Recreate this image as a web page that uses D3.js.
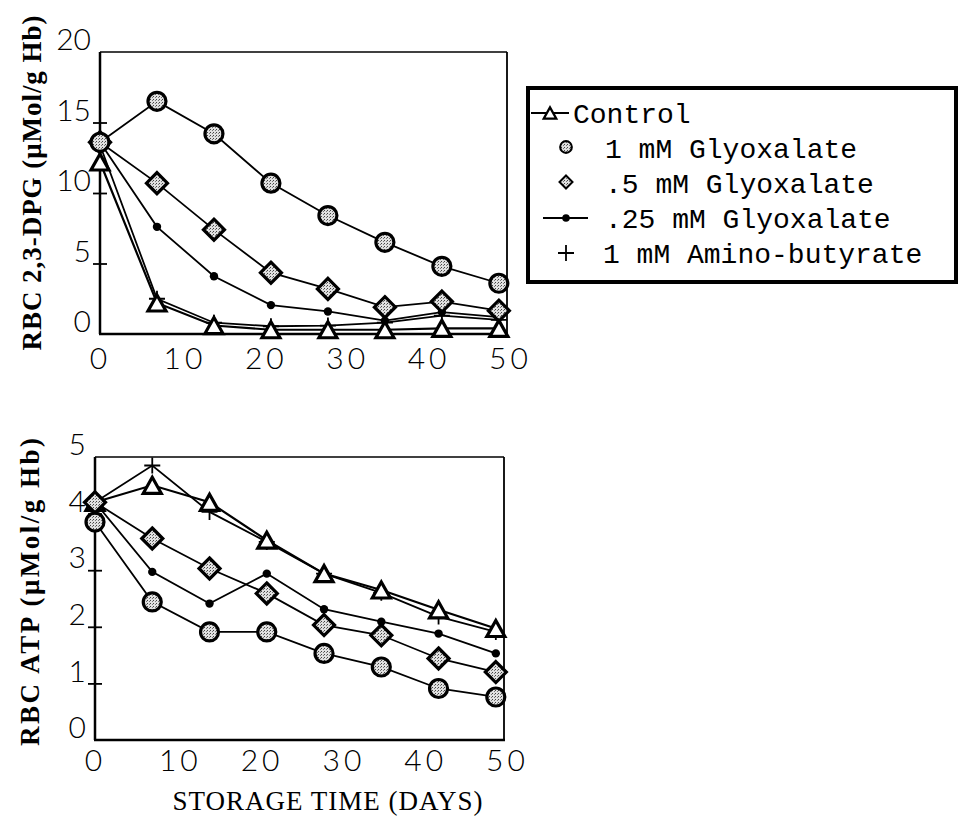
<!DOCTYPE html>
<html>
<head>
<meta charset="utf-8">
<script src="https://cdn.jsdelivr.net/npm/d3@7"></script>
<style>
  html, body { margin: 0; padding: 0; background: #fff; }
  svg { display: block; }
</style>
</head>
<body>
<svg id="chart" width="961" height="837"></svg>
<script>
// ---- data ----
const days = [0, 7, 14, 21, 28, 35, 42, 49];
const seriesNames = ["Control", "1 mM Glyoxalate", ".5 mM Glyoxalate", ".25 mM Glyoxalate", "1 mM Amino-butyrate"];
const seriesMarkers = ["triangle", "circle", "diamond", "dot", "plus"];

// RBC 2,3-DPG (µMol/g Hb)
const dpgControl = [12.2, 2.2, 0.6, 0.3, 0.3, 0.3, 0.4, 0.4];
const dpgGly1 = [13.6, 16.5, 14.2, 10.7, 8.4, 6.5, 4.8, 3.6];
const dpgGly05 = [13.6, 10.7, 7.4, 4.35, 3.2, 1.9, 2.3, 1.65];
const dpgGly025 = [13.6, 7.6, 4.1, 2.05, 1.6, 0.95, 1.55, 1.2];
const dpgAmino = [13.4, 2.5, 0.8, 0.55, 0.6, 0.8, 1.3, 1.0];

// RBC ATP (µMol/g Hb)
const atpControl = [4.2, 4.5, 4.2, 3.53, 2.94, 2.65, 2.3, 1.97];
const atpGly1 = [3.85, 2.44, 1.91, 1.91, 1.53, 1.29, 0.91, 0.76];
const atpGly05 = [4.2, 3.56, 3.03, 2.59, 2.03, 1.85, 1.44, 1.2];
const atpGly025 = [4.2, 2.97, 2.41, 2.94, 2.31, 2.09, 1.88, 1.53];
const atpAmino = [4.2, 4.85, 4.03, 3.5, 2.94, 2.6, 2.18, 1.91];

const xTicks = [0, 10, 20, 30, 40, 50];
const dpgTicks = [0, 5, 10, 15, 20];
const atpTicks = [0, 1, 2, 3, 4, 5];

const dpgTitle = "RBC 2,3-DPG (\u03bcMol/g Hb)";
const atpTitle = "RBC ATP  (\u03bcMol/g Hb)";
const xTitle = "STORAGE TIME (DAYS)";

// ---- drawing ----
const svg = d3.select("#chart");
const defs = svg.append("defs");
const pat = defs.append("pattern").attr("id", "dither").attr("patternUnits", "userSpaceOnUse")
  .attr("width", 3).attr("height", 3);
pat.append("rect").attr("width", 3).attr("height", 3).attr("fill", "#e0e0e0");
pat.append("rect").attr("x", 0).attr("y", 0).attr("width", 1).attr("height", 1).attr("fill", "#444");
pat.append("rect").attr("x", 2).attr("y", 1).attr("width", 1).attr("height", 1).attr("fill", "#777");

const tickFont = "Lato, 'Liberation Sans', sans-serif";
const serifFont = "'Liberation Serif', 'DejaVu Serif', serif";

function drawMarker(g, type, cx, cy, scale = 1) {
  const s = scale;
  if (type === "circle") {
    g.append("circle").attr("cx", cx).attr("cy", cy).attr("r", 9 * s)
      .attr("fill", "url(#dither)").attr("stroke", "#000").attr("stroke-width", 3.2 * s);
  } else if (type === "diamond") {
    const r = 10.5 * s;
    g.append("path").attr("d", `M${cx},${cy - r}L${cx + r},${cy}L${cx},${cy + r}L${cx - r},${cy}Z`)
      .attr("fill", "url(#dither)").attr("stroke", "#000").attr("stroke-width", 3.2 * s);
  } else if (type === "triangle") {
    const w = 9 * s, h = 8 * s;
    g.append("path").attr("d", `M${cx},${cy - h}L${cx + w},${cy + h}L${cx - w},${cy + h}Z`)
      .attr("fill", "#fff").attr("stroke", "#000").attr("stroke-width", 3.2 * s)
      .attr("stroke-linejoin", "miter");
  } else if (type === "dot") {
    g.append("circle").attr("cx", cx).attr("cy", cy).attr("r", 4.2 * s).attr("fill", "#000");
  } else if (type === "plus") {
    const r = 8 * s;
    g.append("path").attr("d", `M${cx - r},${cy}H${cx + r}M${cx},${cy - r}V${cy + r}`)
      .attr("stroke", "#000").attr("stroke-width", 1.8 * s).attr("fill", "none");
  }
}

function panel(cfg) {
  const { left, right, top, bottom, yMax, yTicks, series, title, titleX, titleY, titleLen, xLabelY } = cfg;
  const x = d3.scaleLinear().domain([0, 50]).range([left, right]);
  const y = d3.scaleLinear().domain([0, yMax]).range([bottom, top]);
  const g = svg.append("g");

  // frame: thin top/right, thicker left/bottom
  g.append("line").attr("x1", left).attr("x2", right).attr("y1", top).attr("y2", top)
    .attr("stroke", "#000").attr("stroke-width", 1.5);
  g.append("line").attr("x1", right).attr("x2", right).attr("y1", top).attr("y2", bottom)
    .attr("stroke", "#000").attr("stroke-width", 1.8);

  // y axis with ticks crossing the axis line
  const yAxis = d3.axisLeft(y).tickValues(yTicks).tickSize(0).tickFormat(d3.format("d"));
  const ya = g.append("g").attr("transform", `translate(${left},0)`).call(yAxis);
  ya.select(".domain").remove();
  ya.selectAll(".tick text").attr("x", -9).attr("dy", "-0.08em")
    .attr("font-family", tickFont).attr("font-weight", 300)
    .attr("font-size", 30).attr("fill", "#000");
  ya.selectAll(".tick").filter(d => d !== 0 && d !== yMax).append("line")
    .attr("x1", -7).attr("x2", 7).attr("stroke", "#000").attr("stroke-width", 1.8);
  g.append("line").attr("x1", left).attr("x2", left).attr("y1", top).attr("y2", bottom)
    .attr("stroke", "#000").attr("stroke-width", 2.5);

  // x axis
  const xAxis = d3.axisBottom(x).tickValues(xTicks).tickSize(0).tickFormat(d3.format("d"));
  const xa = g.append("g").attr("transform", `translate(0,${bottom})`).call(xAxis);
  xa.select(".domain").remove();
  xa.selectAll(".tick text").attr("y", xLabelY - bottom).attr("dy", "0.35em")
    .attr("dx", d => d === 0 ? 0 : 3)
    .attr("font-family", tickFont).attr("font-weight", 300)
    .attr("font-size", 30).attr("fill", "#000")
    .attr("letter-spacing", 4);
  g.append("line").attr("x1", left - 1).attr("x2", right + 1).attr("y1", bottom).attr("y2", bottom)
    .attr("stroke", "#000").attr("stroke-width", 2.5);

  // lines
  const line = d3.line().x((d, i) => x(days[i])).y(d => y(d));
  const order = [4, 0, 3, 2, 1];
  order.forEach(k => {
    g.append("path").datum(series[k]).attr("d", line)
      .attr("fill", "none").attr("stroke", "#000").attr("stroke-width", k === 0 ? 2.2 : 1.8);
  });
  order.forEach(k => {
    series[k].forEach((v, i) => drawMarker(g, seriesMarkers[k], x(days[i]), y(v)));
  });

  // y title (rotated)
  svg.append("text")
    .attr("transform", `translate(${titleX},${titleY}) rotate(-90)`)
    .attr("text-anchor", "middle")
    .attr("font-family", serifFont).attr("font-weight", "bold")
    .attr("font-size", 27).attr("fill", "#000")
    .attr("textLength", titleLen).attr("lengthAdjust", "spacing")
    .text(title);
}

panel({
  left: 100, right: 507, top: 52, bottom: 334, yMax: 20, yTicks: dpgTicks,
  series: [dpgControl, dpgGly1, dpgGly05, dpgGly025, dpgAmino],
  title: dpgTitle, titleX: 41, titleY: 183, titleLen: 335, xLabelY: 358
});
panel({
  left: 95, right: 504, top: 457, bottom: 740, yMax: 5, yTicks: atpTicks,
  series: [atpControl, atpGly1, atpGly05, atpGly025, atpAmino],
  title: atpTitle, titleX: 39, titleY: 592, titleLen: 308, xLabelY: 760
});

svg.append("text").attr("x", 328).attr("y", 810).attr("text-anchor", "middle")
  .attr("font-family", serifFont).attr("font-size", 27).attr("fill", "#000")
  .attr("letter-spacing", 1)
  .text(xTitle);

// ---- legend ----
const lg = svg.append("g");
lg.append("rect").attr("x", 528).attr("y", 88).attr("width", 428).attr("height", 194)
  .attr("fill", "#fff").attr("stroke", "#000").attr("stroke-width", 4);
const rowY = [113, 148, 183, 218, 253];
const textX = [573, 605, 605, 605, 603];
const monoFont = "'Liberation Mono', 'DejaVu Sans Mono', monospace";
seriesNames.forEach((name, i) => {
  const cy = rowY[i];
  const m = seriesMarkers[i];
  if (m === "triangle") {
    lg.append("line").attr("x1", 531).attr("x2", 569).attr("y1", cy).attr("y2", cy)
      .attr("stroke", "#000").attr("stroke-width", 2);
    drawMarker(lg, "triangle", 550, cy, 0.7);
  } else if (m === "circle") {
    drawMarker(lg, "circle", 566, cy - 1, 0.65);
  } else if (m === "diamond") {
    drawMarker(lg, "diamond", 566, cy - 1, 0.62);
  } else if (m === "dot") {
    lg.append("line").attr("x1", 543).attr("x2", 588).attr("y1", cy).attr("y2", cy)
      .attr("stroke", "#000").attr("stroke-width", 2);
    drawMarker(lg, "dot", 566, cy, 0.9);
  } else if (m === "plus") {
    drawMarker(lg, "plus", 566, cy, 1);
  }
  lg.append("text").attr("x", textX[i]).attr("y", cy).attr("dy", "0.35em")
    .attr("font-family", monoFont).attr("font-size", 28).attr("fill", "#000")
    .text(name);
});
</script>
</body>
</html>
